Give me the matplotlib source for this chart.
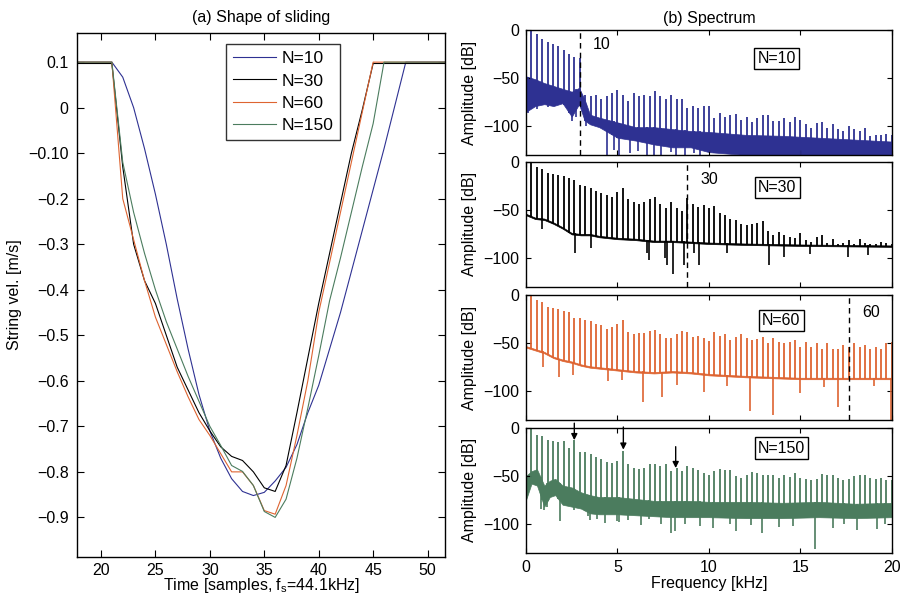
import numpy as np
import matplotlib
matplotlib.use("Agg")
import matplotlib.pyplot as plt

plt.rcParams['font.family'] = ['Liberation Sans', 'DejaVu Sans']
plt.rcParams['mathtext.fontset'] = 'custom'
plt.rcParams['mathtext.rm'] = 'Liberation Sans'
FS = 11.5

# ---- (a) shape of sliding: string velocity per sample ----
samples = list(range(17, 53))
vel_10 = [0.1, 0.1, 0.1, 0.1, 0.1, 0.067, 0.0, -0.09, -0.19, -0.30, -0.42, -0.53,
          -0.63, -0.71, -0.77, -0.815, -0.843, -0.852, -0.845, -0.82, -0.79, -0.74,
          -0.67, -0.61, -0.53, -0.45, -0.36, -0.27, -0.18, -0.09, 0.005, 0.1,
          0.1, 0.1, 0.1, 0.1]
vel_30 = [0.097, 0.097, 0.097, 0.097, 0.097, -0.13, -0.30, -0.38, -0.43, -0.50, -0.57,
          -0.62, -0.67, -0.71, -0.745, -0.766, -0.775, -0.80, -0.835, -0.843, -0.786,
          -0.67, -0.55, -0.43, -0.32, -0.21, -0.10, -0.005, 0.097, 0.097, 0.097,
          0.097, 0.097, 0.097, 0.097, 0.097]
vel_60 = [0.1, 0.1, 0.1, 0.1, 0.1, -0.20, -0.29, -0.38, -0.46, -0.52, -0.58, -0.635,
          -0.685, -0.72, -0.76, -0.80, -0.80, -0.83, -0.885, -0.893, -0.83, -0.72,
          -0.60, -0.45, -0.34, -0.23, -0.12, -0.01, 0.1, 0.1, 0.1, 0.1, 0.1, 0.1,
          0.1, 0.1]
vel_150 = [0.1, 0.1, 0.1, 0.1, 0.1, -0.12, -0.23, -0.32, -0.40, -0.47, -0.53, -0.59,
           -0.645, -0.70, -0.742, -0.786, -0.799, -0.83, -0.887, -0.90, -0.86, -0.77,
           -0.66, -0.545, -0.424, -0.33, -0.23, -0.13, -0.035, 0.1, 0.1, 0.1, 0.1,
           0.1, 0.1, 0.1]
vel_ticks = [0.1, 0, -0.1, -0.2, -0.3, -0.4, -0.5, -0.6, -0.7, -0.8, -0.9]
vel_labels = ['0.1', '0', '\u22120.10', '\u22120.2', '\u22120.3', '\u22120.4', '\u22120.5',
              '\u22120.6', '\u22120.7', '\u22120.8', '\u22120.9']

# ---- (b) spectrum: harmonic peaks (dB), noise floor band, downward dips ----
f0 = 44.1 / 150  # kHz, harmonic spacing
n_list = [10, 30, 60, 150]

peaks_10 = [0, -4, -9, -12, -14, -16, -21, -25, -28, -29,
            -67, -68, -67, -72, -68, -65, -62, -67, -74, -65,
            -68, -67, -68, -63, -68, -72, -67, -72, -72, -81,
            -79, -81, -79, -79, -91, -86, -90, -88, -87, -93,
            -90, -96, -91, -88, -88, -95, -95, -91, -96, -90,
            -94, -98, -102, -97, -96, -102, -98, -103, -105, -100,
            -103, -105, -102, -110, -109, -109, -108, -109]
peaks_30 = [0, -5, -7, -12, -13, -14, -15, -17, -19, -24,
            -25, -27, -30, -32, -34, -37, -31, -27, -39, -42,
            -44, -42, -39, -37, -44, -48, -42, -48, -51, -38,
            -44, -47, -45, -48, -46, -53, -55, -59, -60, -65,
            -66, -65, -64, -62, -72, -76, -73, -76, -78, -79,
            -74, -81, -83, -78, -76, -84, -80, -85, -84, -81,
            -85, -80, -84, -85, -86, -83, -84, -86]
peaks_60 = [0, -5, -7, -12, -13, -14, -16, -17, -24, -24,
            -26, -27, -30, -31, -35, -33, -30, -26, -38, -40,
            -39, -39, -37, -36, -40, -45, -45, -40, -37, -38,
            -43, -42, -45, -48, -38, -42, -40, -47, -43, -40,
            -45, -47, -46, -43, -50, -45, -49, -50, -49, -47,
            -54, -49, -54, -50, -56, -50, -56, -56, -52, -54,
            -50, -54, -52, -56, -54, -56, -50, -49]
peaks_150 = [0, -7, -8, -13, -14, -15, -14, -21, -13, -25,
             -25, -27, -30, -32, -35, -37, -34, -24, -38, -42,
             -43, -42, -38, -38, -40, -38, -45, -42, -45, -40,
             -42, -44, -47, -49, -45, -43, -44, -44, -50, -52,
             -49, -46, -47, -49, -49, -49, -52, -49, -51, -47,
             -52, -53, -54, -53, -48, -49, -49, -52, -54, -53,
             -50, -49, -49, -52, -53, -52, -54, -54]

grid_10 = [0, 0.5, 1, 1.5, 2, 2.5, 2.9, 3.2, 3.5, 4, 5, 6, 7, 8, 9, 10, 12, 14, 16, 18, 20]
top_10 = [-48, -51, -55, -58, -61, -64, -60, -72, -88, -91, -96, -101, -101, -103, -105,
          -106, -109, -110, -112, -114, -116]
bot_10 = [-85, -79, -77, -79, -76, -90, -77, -94, -98, -101, -112, -115, -119, -122, -122,
          -127, -130, -130, -130, -130, -130]
grid_30 = [0, 0.5, 1, 1.5, 2, 2.5, 3, 3.5, 4, 5, 6, 7, 8, 9, 10, 12, 15, 20]
top_30 = [-54, -58, -59, -63, -68, -74, -75, -75, -77, -79, -80, -82, -82, -83, -84, -85,
          -86, -87]
bot_30 = [-55.5, -59.5, -60.5, -64.5, -69.5, -75.5, -76.5, -76.5, -78.5, -80.5, -81.5,
          -83.5, -83.5, -84.5, -85.5, -86.5, -87.5, -88.5]
grid_60 = [0, 0.5, 1, 1.5, 2, 2.5, 3, 3.5, 4, 5, 6, 7, 8, 9, 10, 12, 15, 20]
top_60 = [-53, -56, -59, -64, -67, -69, -72, -74, -75, -77, -79, -80, -79, -80, -82, -84,
          -86, -86]
bot_60 = [-54.5, -57.5, -60.5, -65.5, -68.5, -70.5, -73.5, -75.5, -76.5, -78.5, -80.5,
          -81.5, -80.5, -81.5, -83.5, -85.5, -87.5, -87.5]
grid_150 = [0, 0.3, 0.6, 1, 1.3, 1.6, 2, 2.5, 3, 3.5, 4, 5, 6, 7, 8, 9, 10, 12, 14, 16,
            18, 20]
top_150 = [-50, -45, -43, -60, -55, -53, -60, -62, -67, -70, -72, -72, -74, -76, -76, -76,
           -77, -77, -78, -77, -79, -78]
bot_150 = [-75, -58, -60, -82, -72, -70, -80, -82, -84, -89, -90, -90, -91, -92, -93, -93,
           -93, -94, -94, -93, -94, -93]

dips_10 = [(0.13, -86), (0.6, -82), (1.2, -80), (2.5, -95), (2.75, -90), (3.3, -100),
           (4.4, -130), (4.8, -125), (5.1, -130), (5.7, -128), (6.1, -126), (6.6, -130),
           (7.0, -130), (7.4, -130), (7.9, -127), (8.2, -130), (8.7, -130), (9.2, -128),
           (9.5, -130)]
dips_30 = [(0.86, -70), (2.68, -95), (3.54, -90), (6.6, -95), (6.7, -102), (7.6, -100),
           (7.7, -107), (8.03, -117), (8.61, -107), (9.16, -95), (9.43, -107), (11.0, -95),
           (13.28, -107), (14.1, -99), (15.5, -96), (17.6, -99), (18.7, -97)]
dips_60 = [(0.91, -75), (1.82, -85), (2.59, -83), (4.5, -89), (5.24, -88), (6.42, -111),
           (7.43, -106), (8.25, -94), (9.7, -101), (11.0, -95), (12.24, -121), (13.5, -125),
           (15.0, -102), (16.3, -96), (17.07, -116), (19.0, -95), (19.97, -130)]
dips_150 = [(0.8, -84), (1.0, -85), (1.15, -82), (1.86, -97), (2.6, -86), (3.4, -92),
            (3.5, -96), (3.9, -95), (4.3, -99), (5.0, -97), (5.1, -98), (5.6, -96),
            (6.3, -101), (6.7, -95), (7.4, -100), (7.9, -109), (8.15, -107), (8.7, -100),
            (9.5, -102), (10.2, -104), (11.15, -100), (11.5, -107), (12.3, -101),
            (12.9, -110), (13.8, -103), (14.6, -102), (15.8, -126), (16.8, -104),
            (17.4, -100), (18.1, -106), (19.2, -105), (19.6, -100)]

# arrows in N=150 panel: frequency, tail dB, head dB
arrow_f = [2.64, 5.32, 8.18]
arrow_tail = [5, 1, -19.5]
arrow_head = [-12.7, -22.6, -41.8]

colors = ['#2e3192', '#000000', '#de6431', '#4b7c5e']

fig = plt.figure(figsize=(9.03, 6.01), dpi=100)

# ---- left panel ----
ax = fig.add_axes([0.0853, 0.0732, 0.4075, 0.8719])
for vals, c, n in zip([vel_10, vel_30, vel_60, vel_150], colors, n_list):
    ax.plot(samples, vals, color=c, lw=0.8, label='N=%d' % n)
ax.set_xlim(17.8, 51.6)
ax.set_ylim(-0.987, 0.164)
ax.set_xticks([20, 25, 30, 35, 40, 45, 50])
ax.set_yticks(vel_ticks)
ax.set_yticklabels(vel_labels)
ax.tick_params(direction='in', top=True, right=True, length=5, width=0.8,
               labelsize=FS, pad=6)
ax.tick_params(axis='x', pad=4)
for s in ax.spines.values():
    s.set_linewidth(1.0)
ax.set_title('(a) Shape of sliding', fontsize=FS, pad=8)
ax.set_xlabel(r'Time [samples, f$_{\mathregular{s}}$=44.1kHz]', fontsize=FS)
ax.xaxis.set_label_coords(0.5, -0.036)
ax.set_ylabel('String vel. [m/s]', fontsize=FS)
ax.yaxis.set_label_coords(-0.15, 0.5)
leg = ax.legend(loc='upper left', bbox_to_anchor=(0.405, 0.979), fontsize=12.5,
                frameon=True, fancybox=False, handlelength=2.5, handletextpad=0.3,
                labelspacing=0.42, borderpad=0.4, borderaxespad=0)
leg.get_frame().set_edgecolor('black')
leg.get_frame().set_linewidth(1.0)

# ---- right panels ----
harm = f0 * np.arange(1, 69)
bottoms = [0.7421, 0.5230, 0.3012, 0.0804]
peak_sets = [peaks_10, peaks_30, peaks_60, peaks_150]
grids = [grid_10, grid_30, grid_60, grid_150]
tops = [top_10, top_30, top_60, top_150]
bots = [bot_10, bot_30, bot_60, bot_150]
dip_sets = [dips_10, dips_30, dips_60, dips_150]
box_pos = [(13.7, -29.5), (13.74, -26.3), (13.95, -26), (13.96, -21)]
cut_text_y = [-14.7, -18.5, -17.6]

axes = []
for i in range(4):
    a = fig.add_axes([0.5825, bottoms[i], 0.4053, 0.2075])
    axes.append(a)
    c = colors[i]
    a.fill_between(grids[i], bots[i], tops[i], color=c, lw=0.5)
    base = np.interp(harm, grids[i], bots[i])
    a.vlines(harm, base, peak_sets[i], color=c, lw=1.3)
    df = [d[0] for d in dip_sets[i]]
    dv = [d[1] for d in dip_sets[i]]
    a.vlines(df, np.interp(df, grids[i], tops[i]), dv, color=c, lw=1.2)
    a.set_xlim(0, 20)
    a.set_ylim(-130, 0)
    a.set_xticks([0, 5, 10, 15, 20])
    a.set_yticks([-100, -50, 0])
    a.tick_params(direction='in', top=True, right=True, length=3.5, width=0.8,
                  labelsize=FS, pad=5)
    for s in a.spines.values():
        s.set_linewidth(1.0)
    a.set_ylabel('Amplitude [dB]', fontsize=FS)
    a.yaxis.set_label_coords(-0.134, 0.5)
    a.text(box_pos[i][0], box_pos[i][1], 'N=%d' % n_list[i], ha='center', va='center',
           fontsize=FS,
           bbox=dict(boxstyle='square,pad=0.2', facecolor='white', edgecolor='black', lw=1.0))
    if i < 3:
        fc = n_list[i] * f0
        a.axvline(fc, color='black', lw=1.0, ls=(0, (4, 3)))
        a.text(fc + 0.73, cut_text_y[i], str(n_list[i]), ha='left', va='center',
               fontsize=FS)
        a.tick_params(axis='x', labelbottom=False)

axes[0].set_title('(b) Spectrum', fontsize=FS, pad=5)
axes[3].set_xlabel('Frequency [kHz]', fontsize=FS)
axes[3].xaxis.set_label_coords(0.5, -0.19)
for f, t, h in zip(arrow_f, arrow_tail, arrow_head):
    axes[3].annotate('', xy=(f, h), xytext=(f, t), annotation_clip=False,
                     arrowprops=dict(arrowstyle='-|>', color='black', lw=1.0,
                                     mutation_scale=9, shrinkA=0, shrinkB=0))

fig.savefig('out.png', dpi=100)
